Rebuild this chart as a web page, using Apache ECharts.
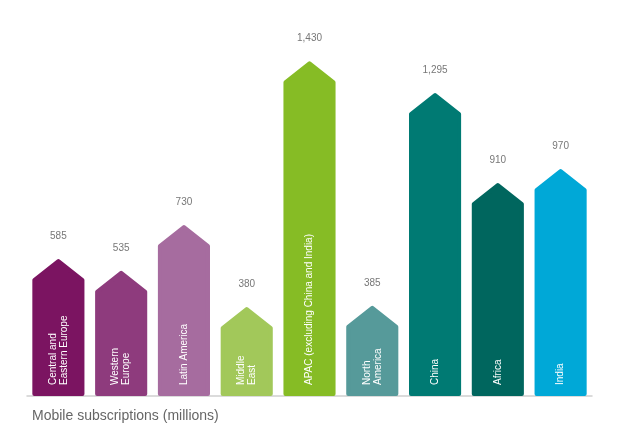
<!DOCTYPE html>
<html>
<head>
<meta charset="utf-8">
<script src="https://cdn.jsdelivr.net/npm/echarts@6/dist/echarts.min.js"></script>
<style>
  html, body { margin: 0; padding: 0; background: #fff; }
  #chart { width: 620px; height: 437px; }
</style>
</head>
<body>
<div id="chart"></div>
<script>
const regions = [
  'Central and\nEastern Europe',
  'Western\nEurope',
  'Latin America',
  'Middle\nEast',
  'APAC (excluding China and India)',
  'North\nAmerica',
  'China',
  'Africa',
  'India'
]
const subscriptions = [585, 535, 730, 380, 1430, 385, 1295, 910, 970]
const colors = [
  '#7b1461', '#8e3b7d', '#a66c9f', '#a2c85a', '#86bc25',
  '#569a9a', '#007a73', '#00665e', '#00a8d7'
]

const chart = echarts.init(document.getElementById('chart'), null, { renderer: 'canvas' })

// arrow shaped column: rectangle with a pointed head, tip sits at the value
function renderArrow(params, api) {
  const i = api.value(0)
  const val = api.value(1)
  const tip = api.coord([i, val])
  const base = api.coord([i, 0])
  const w = api.size([1, 0])[0] * 0.83
  const half = w / 2 - 2
  const head = 21
  const cx = tip[0]
  const pts = [
    [cx - half, base[1] - 2],
    [cx - half, tip[1] + head],
    [cx, tip[1] + 2],
    [cx + half, tip[1] + head],
    [cx + half, base[1] - 2]
  ]
  return {
    type: 'group',
    children: [
      {
        type: 'polygon',
        shape: { points: pts },
        style: { fill: colors[i], stroke: colors[i], lineWidth: 4, lineJoin: 'round' }
      },
      {
        type: 'text',
        x: cx,
        y: tip[1] - 23,
        style: {
          text: val.toLocaleString('en-US'),
          fill: '#777',
          font: '10px "Liberation Sans", Arial, sans-serif',
          align: 'center',
          verticalAlign: 'middle'
        }
      },
      {
        type: 'text',
        x: cx,
        y: base[1] - 11,
        rotation: Math.PI / 2,
        style: {
          text: regions[i],
          fill: '#fff',
          font: '10px "Liberation Sans", Arial, sans-serif',
          lineHeight: 11,
          align: 'left',
          verticalAlign: 'middle'
        }
      }
    ]
  }
}

chart.setOption({
  animation: false,
  title: {
    text: 'Mobile subscriptions (millions)',
    left: 27,
    top: 404,
    textStyle: { color: '#666', fontSize: 14, fontWeight: 'normal', fontFamily: '"Liberation Sans", Arial, sans-serif' }
  },
  grid: { left: 27, right: 28, top: 45, bottom: 41 },
  xAxis: {
    type: 'category',
    data: regions,
    axisLine: { show: true, lineStyle: { color: '#cfcfcf', width: 1.5 } },
    axisTick: { show: false },
    axisLabel: { show: false }
  },
  yAxis: {
    type: 'value',
    min: 0,
    max: 1500,
    show: false,
    splitLine: { show: false }
  },
  series: [{
    type: 'custom',
    renderItem: renderArrow,
    encode: { x: 0, y: 1 },
    data: subscriptions.map((v, i) => [i, v])
  }]
})
</script>
</body>
</html>
